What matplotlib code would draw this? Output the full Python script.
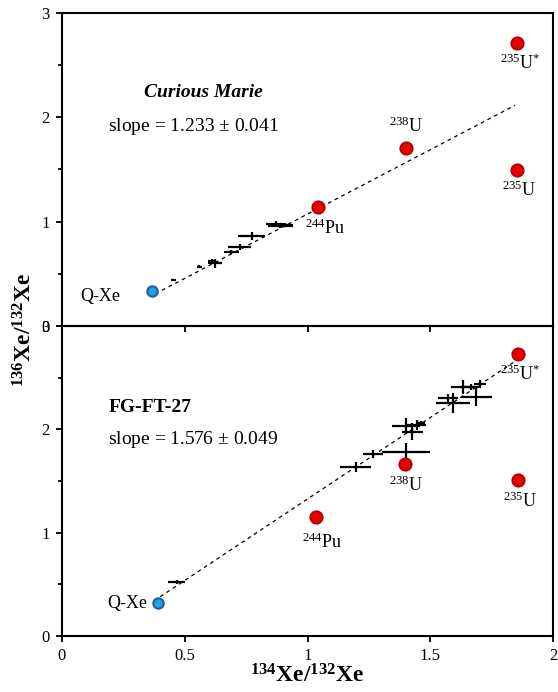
import numpy as np
import matplotlib
matplotlib.use('Agg')
import matplotlib.pyplot as plt

plt.rcParams['font.family'] = ['Liberation Serif', 'DejaVu Serif']
plt.rcParams['mathtext.fontset'] = 'custom'
plt.rcParams['mathtext.rm'] = 'Liberation Serif'
plt.rcParams['mathtext.it'] = 'Liberation Serif:italic'
plt.rcParams['mathtext.bf'] = 'Liberation Serif:bold'

# Curious Marie (top panel) measurements
cm_x = [0.453, 0.56, 0.609, 0.623, 0.69, 0.724, 0.772, 0.87, 0.89, 0.91]
cm_y = [0.44, 0.57, 0.62, 0.60, 0.71, 0.76, 0.863, 0.98, 0.96, 0.97]
cm_xerr = [0.010, 0.012, 0.015, 0.027, 0.03, 0.047, 0.054, 0.04, 0.05, 0.03]
cm_yerr = [0.01, 0.01, 0.02, 0.04, 0.02, 0.03, 0.04, 0.03, 0.02, 0.02]
cm_qxe = (0.367, 0.338)
cm_ends_x = [1.043, 1.40, 1.855, 1.855]
cm_ends_y = [1.138, 1.704, 1.496, 2.716]
cm_slope, cm_icpt = 1.233, -0.16

# FG-FT-27 (bottom panel) measurements
fg_x = [0.467, 1.197, 1.267, 1.403, 1.427, 1.40, 1.444, 1.464, 1.593, 1.572, 1.633, 1.688, 1.667, 1.704]
fg_y = [0.526, 1.633, 1.759, 1.784, 1.978, 2.033, 2.04, 2.065, 2.253, 2.30, 2.41, 2.317, 2.41, 2.44]
fg_xerr = [0.034, 0.063, 0.039, 0.098, 0.044, 0.057, 0.04, 0.015, 0.07, 0.04, 0.05, 0.064, 0.03, 0.025]
fg_yerr = [0.02, 0.048, 0.04, 0.084, 0.08, 0.073, 0.05, 0.02, 0.097, 0.04, 0.065, 0.09, 0.03, 0.04]
fg_qxe = (0.392, 0.316)
fg_ends_x = [1.034, 1.396, 1.857, 1.857]
fg_ends_y = [1.15, 1.665, 1.51, 2.73]
fg_slope, fg_icpt = 1.576, -0.25

end_labels = [r'$^{244}$Pu', r'$^{238}$U', r'$^{235}$U', r'$^{235}$U$^{*}$']

W, H = 558, 692
fig = plt.figure(figsize=(W/100, H/100), dpi=100)
ax1 = fig.add_axes([62/W, 1-326/H, 491/W, 313/H])
ax2 = fig.add_axes([62/W, 1-636/H, 491/W, 310/H])
ax1.set_zorder(3)
ax1.patch.set_alpha(0)


def panel(ax, x, y, xerr, yerr, qxe, ex, ey, slope, icpt, x0):
    xl = np.array([x0, 1.845])
    ax.plot(xl, icpt + slope*xl, ls=(0, (3, 3)), color='black', lw=0.9, zorder=1)
    ax.errorbar(x, y, xerr=xerr, yerr=yerr, fmt='none', ecolor='black',
                elinewidth=1.6, capsize=0, zorder=2)
    ax.plot(ex, ey, 'o', ms=9, mfc='#e60000', mec='#b00000', mew=1.2, zorder=3)
    ax.plot([qxe[0]], [qxe[1]], 'o', ms=7.5, mfc='#1aa3e8', mec='#2a5f95', mew=1.5, zorder=3)
    ax.set_xlim(0, 2)
    ax.set_ylim(0, 3)
    ax.set_yticks([0, 1, 2, 3])
    ax.set_yticks([0.5, 1.5, 2.5], minor=True)
    ax.set_xticks([0, 0.5, 1, 1.5, 2])
    ax.set_xticklabels(['0', '0.5', '1', '1.5', '2'])
    ax.tick_params(axis='both', which='major', direction='out', length=4, width=1.3,
                   labelsize=12, pad=5)
    ax.tick_params(axis='y', which='minor', direction='out', length=3, width=1.3)
    for s in ax.spines.values():
        s.set_linewidth(1.5)


panel(ax1, cm_x, cm_y, cm_xerr, cm_yerr, cm_qxe, cm_ends_x, cm_ends_y,
      cm_slope, cm_icpt, 0.38)
panel(ax2, fg_x, fg_y, fg_xerr, fg_yerr, fg_qxe, fg_ends_x, fg_ends_y,
      fg_slope, fg_icpt, 0.40)
ax1.tick_params(axis='x', labelbottom=False)

fs = 13
# top panel labels
ax1.text(0.236, 0.28, 'Q-Xe', ha='right', va='center', fontsize=fs)
ax1.text(0.99, 0.94, end_labels[0], ha='left', va='center', fontsize=fs)
ax1.text(1.40, 1.91, end_labels[1], ha='center', va='center', fontsize=fs)
ax1.text(1.86, 1.30, end_labels[2], ha='center', va='center', fontsize=fs)
ax1.text(1.865, 2.52, end_labels[3], ha='center', va='center', fontsize=fs)
ax1.text(0.574, 2.24, 'Curious Marie', ha='center', va='center', fontsize=14,
         fontweight='bold', style='italic')
ax1.text(0.187, 1.91, r'slope = 1.233 $\pm$ 0.041', ha='left', va='center', fontsize=14)

# bottom panel labels
ax2.text(0.346, 0.31, 'Q-Xe', ha='right', va='center', fontsize=fs)
ax2.text(1.06, 0.91, end_labels[0], ha='center', va='center', fontsize=fs)
ax2.text(1.403, 1.46, end_labels[1], ha='center', va='center', fontsize=fs)
ax2.text(1.865, 1.30, end_labels[2], ha='center', va='center', fontsize=fs)
ax2.text(1.865, 2.53, end_labels[3], ha='center', va='center', fontsize=fs)
ax2.text(0.358, 2.21, 'FG-FT-27', ha='center', va='center', fontsize=14, fontweight='bold')
ax2.text(0.187, 1.90, r'slope = 1.576 $\pm$ 0.049', ha='left', va='center', fontsize=14)

ax2.set_xlabel(r'$^{\mathbf{134}}$Xe/$^{\mathbf{132}}$Xe', fontsize=17,
               fontweight='bold', labelpad=0)
fig.text(25/W, 1-330/H, r'$^{\mathbf{136}}$Xe/$^{\mathbf{132}}$Xe', rotation=90,
         ha='center', va='center', fontsize=17, fontweight='bold')

fig.savefig('out.png', dpi=100, facecolor='white')
